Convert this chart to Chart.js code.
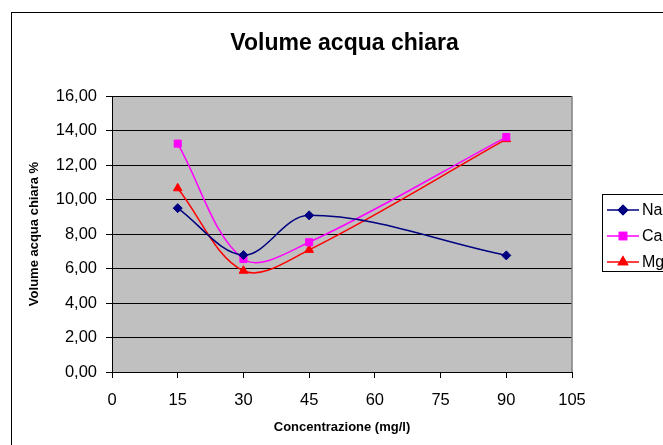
<!DOCTYPE html>
<html>
<head>
<meta charset="utf-8">
<title>Volume acqua chiara</title>
<script src="https://cdn.jsdelivr.net/npm/chart.js@4.4.1/dist/chart.umd.min.js"></script>
<style>
  html, body { margin: 0; padding: 0; background: #ffffff; }
  #chart { display: block; }
</style>
</head>
<body>
<canvas id="chart" width="663" height="445"></canvas>
<script>
const concentrations = [15, 30, 45, 90];
const naValues = [9.5, 6.78, 9.08, 6.76];
const caValues = [13.24, 6.55, 7.52, 13.62];
const mgValues = [10.65, 5.87, 7.08, 13.5];
const seriesNames = ["NaCl", "CaCl2", "MgCl2"];

const xTicks = [0, 15, 30, 45, 60, 75, 90, 105];
const yMin = 0;
const yMax = 16;
const yStep = 2;

const FONT = "'Liberation Sans', Arial, sans-serif";

const toPoints = (values) => values.map((v, i) => ({ x: concentrations[i], y: v }));

const formatComma = (value) => value.toFixed(2).replace(".", ",");

// plot background, outer frame, right edge of plot
const framePlugin = {
  id: "frame",
  afterLayout(chart) {
    // excel centres the title a bit to the right, over plot + legend
    if (chart.titleBlock) {
      chart.titleBlock.left = 117;
      chart.titleBlock.right = 572;
    }
  },
  beforeDraw(chart) {
    const { ctx, chartArea } = chart;
    ctx.save();
    ctx.fillStyle = "#ffffff";
    ctx.fillRect(0, 0, chart.width, chart.height);
    ctx.fillStyle = "#c0c0c0";
    ctx.fillRect(chartArea.left, chartArea.top, chartArea.right - chartArea.left, chartArea.bottom - chartArea.top);
    ctx.strokeStyle = "#000000";
    ctx.lineWidth = 1;
    ctx.strokeRect(11.5, 12.5, 800, 600);
    ctx.restore();
  },
  afterDatasetsDraw(chart) {
    const { ctx, chartArea } = chart;
    ctx.save();
    ctx.strokeStyle = "#808080";
    ctx.lineWidth = 1.5;
    ctx.beginPath();
    ctx.moveTo(chartArea.right, chartArea.top);
    ctx.lineTo(chartArea.right, chartArea.bottom);
    ctx.stroke();
    ctx.restore();
  },
};

// excel style legend: line with marker in the middle
const legendBoxPlugin = {
  id: "legendBox",
  afterDraw(chart) {
    const { ctx } = chart;
    const boxX = 602.5;
    const boxY = 194.5;
    const rowGap = 26;
    ctx.save();
    ctx.strokeStyle = "#000000";
    ctx.lineWidth = 1;
    ctx.strokeRect(boxX, boxY, 120, 77);
    chart.data.datasets.forEach((ds, i) => {
      const y = boxY + 15.5 + i * rowGap;
      ctx.strokeStyle = ds.borderColor;
      ctx.lineWidth = ds.borderWidth;
      ctx.beginPath();
      ctx.moveTo(607, y);
      ctx.lineTo(639, y);
      ctx.stroke();
      Chart.helpers.drawPoint(ctx, {
        pointStyle: ds.pointStyle,
        radius: ds.pointRadius,
        rotation: 0,
        borderWidth: 1,
      }, 623, y);
      ctx.fillStyle = ds.pointBackgroundColor;
      ctx.strokeStyle = ds.pointBorderColor;
      ctx.fill();
      ctx.stroke();
      ctx.fillStyle = "#000000";
      ctx.font = `16px ${FONT}`;
      ctx.textBaseline = "middle";
      ctx.textAlign = "left";
      ctx.fillText(ds.label, 642, y + 1);
    });
    ctx.restore();
  },
};

const makeDataset = (label, values, color, style, radius) => ({
  label,
  data: toPoints(values),
  borderColor: color,
  backgroundColor: color,
  pointBackgroundColor: color,
  pointBorderColor: color,
  borderWidth: 1.5,
  pointStyle: style,
  pointRadius: radius,
  pointBorderWidth: 1,
  tension: 0.35,
  fill: false,
});

const datasets = [
  makeDataset(seriesNames[0], naValues, "#000080", "rectRot", 4.5),
  makeDataset(seriesNames[1], caValues, "#ff00ff", "rect", 5),
  makeDataset(seriesNames[2], mgValues, "#ff0000", "triangle", 5),
];

new Chart(document.getElementById("chart"), {
  type: "line",
  data: { datasets },
  plugins: [framePlugin, legendBoxPlugin],
  options: {
    responsive: false,
    animation: false,
    devicePixelRatio: 1,
    layout: { padding: { left: 11, right: 91, top: 0, bottom: 0 } },
    plugins: {
      legend: { display: false },
      tooltip: { enabled: false },
      title: {
        display: true,
        text: "Volume acqua chiara",
        color: "#000000",
        font: { family: FONT, size: 23, weight: "bold", lineHeight: 1.2 },
        padding: { top: 29.5, bottom: 38.9 },
      },
    },
    scales: {
      x: {
        type: "linear",
        min: 0,
        max: 105,
        afterFit: (scale) => { scale.height = 73; },
        afterBuildTicks: (scale) => { scale.ticks = xTicks.map((v) => ({ value: v })); },
        ticks: {
          color: "#000000",
          padding: 13,
          maxRotation: 0,
          autoSkip: false,
          font: { family: FONT, size: 16.5 },
        },
        grid: { drawOnChartArea: false, drawTicks: true, tickLength: 6, color: "#000000", lineWidth: 1 },
        border: { color: "#000000", width: 1 },
        title: {
          display: true,
          text: "Concentrazione (mg/l)",
          color: "#000000",
          font: { family: FONT, size: 13, weight: "bold", lineHeight: 1.2 },
          padding: { top: 0, bottom: 10 },
        },
      },
      y: {
        min: yMin,
        max: yMax,
        afterFit: (scale) => { scale.width = 101; },
        ticks: {
          stepSize: yStep,
          color: "#000000",
          padding: 9,
          font: { family: FONT, size: 16.5 },
          callback: (value) => formatComma(value),
        },
        grid: { color: "#000000", lineWidth: 1, drawTicks: true, tickLength: 6 },
        border: { color: "#000000", width: 1 },
        title: {
          display: true,
          text: "Volume acqua chiara %",
          color: "#000000",
          font: { family: FONT, size: 13, weight: "bold", lineHeight: 1.2 },
          padding: { top: 16, bottom: 0 },
        },
      },
    },
  },
});
</script>
</body>
</html>
